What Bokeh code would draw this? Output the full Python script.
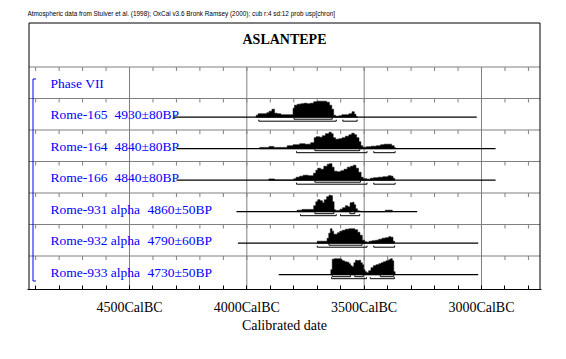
from bokeh.plotting import figure
from bokeh.models import Range1d, FixedTicker, CustomJSTickFormatter
from bokeh.embed import file_html
from bokeh.resources import INLINE
from bokeh.core.properties import value

# ---------------- data ----------------
caption = "Atmospheric data from Stuiver et al. (1998); OxCal v3.6 Bronk Ramsey (2000); cub r:4 sd:12 prob usp[chron]"
site = "ASLANTEPE"
phase_label = "Phase VII"
x_title = "Calibrated date"

lab_codes = ["Rome-165", "Rome-164", "Rome-166", "Rome-931 alpha", "Rome-932 alpha", "Rome-933 alpha"]
bp_ages = [4930, 4840, 4840, 4860, 4790, 4730]
bp_errors = [80, 80, 80, 50, 60, 50]

major_years = [4500, 4000, 3500, 3000]
tick_years = [4900, 4800, 4700, 4600, 4500, 4400, 4300, 4200, 4100, 4000, 3900, 3800,
              3700, 3600, 3500, 3400, 3300, 3200, 3100, 3000, 2900, 2800]

# calibrated probability (step values, each held until the next year, cal BC)
rome165_years = [3960, 3952, 3915, 3905, 3893, 3882, 3870, 3855, 3803, 3797, 3785, 3770, 3757, 3743, 3730,
                 3715, 3700, 3660, 3648, 3638, 3630, 3622, 3607, 3595, 3565, 3552, 3542, 3535, 3528]
rome165_prob = [2, 3.5, 4.5, 6, 8, 4, 3.5, 2.5, 9, 12, 13, 13.5, 14, 13.5, 14,
                15.5, 16, 15, 12, 8, 2, 1, 1.5, 2.5, 3.5, 5.5, 3, 0.5, 0]

rome164_years = [3945, 3905, 3885, 3828, 3803, 3775, 3752, 3728, 3713, 3705, 3690, 3678, 3665, 3650, 3640,
                 3632, 3622, 3608, 3594, 3580, 3565, 3553, 3542, 3532, 3522, 3514, 3506, 3490, 3470, 3448,
                 3430, 3415, 3383, 3372, 3365]
rome164_prob = [1.3, 2.3, 1.3, 3, 4, 5, 4.5, 6, 11, 12, 11.5, 13, 15, 16.5, 15,
                11, 9.5, 10, 11, 12.5, 14, 15.5, 14, 11, 7, 3, 1.5, 2, 2.5, 3,
                4, 4.5, 3, 1, 0]

rome166_years = [3906, 3882, 3800, 3790, 3775, 3760, 3738, 3716, 3706, 3698, 3686, 3672, 3657, 3648, 3637,
                 3628, 3616, 3600, 3586, 3572, 3558, 3546, 3535, 3524, 3513, 3504, 3488, 3473, 3460, 3440,
                 3420, 3398, 3385, 3377, 3370]
rome166_prob = [1.3, 0, 1.5, 3, 4, 5, 4.5, 7, 10, 12, 11, 14, 16, 16.5, 13,
                9, 8.5, 9.5, 11, 13, 14, 15, 12, 8, 3, 1.5, 1, 2, 2.5, 3,
                3.5, 4.5, 4, 2, 0]

rome931_years = [3786, 3765, 3715, 3706, 3698, 3688, 3678, 3670, 3660, 3650, 3642, 3635, 3628, 3622, 3603,
                 3592, 3580, 3570, 3560, 3550, 3543, 3536, 3529, 3521, 3512, 3410, 3380]
rome931_prob = [1.5, 2.3, 6, 10, 12, 11, 9, 12, 15, 16.5, 16, 10, 2, 1.3, 2.5,
                4, 6, 5, 9, 9.5, 7, 3, 1, 0.5, 0, 1.5, 0]

rome932_years = [3700, 3658, 3651, 3644, 3637, 3630, 3614, 3604, 3593, 3580, 3565, 3540, 3528, 3518, 3508,
                 3498, 3489, 3479, 3466, 3452, 3438, 3424, 3410, 3396, 3386, 3377, 3370]
rome932_prob = [2, 5, 10, 14.5, 12, 9, 10.5, 12, 13, 14, 14.5, 13.5, 11, 8, 3,
                1.5, 1, 2, 2.5, 3, 4, 5, 5.5, 6.5, 6, 2, 0]

rome933_years = [3642, 3636, 3628, 3602, 3594, 3584, 3574, 3565, 3558, 3551, 3544, 3537, 3529, 3522, 3515,
                 3508, 3502, 3496, 3489, 3481, 3471, 3461, 3450, 3438, 3428, 3418, 3407, 3396, 3388, 3380,
                 3374, 3368]
rome933_prob = [5, 15.5, 16, 15.5, 14, 13, 12.5, 11, 9, 8, 12, 14.5, 14, 14.5, 12,
                10, 5, 3, 2, 4, 7, 9, 10, 11, 12, 13, 14, 15, 16, 14,
                3, 0]

# extent of each calibrated distribution (cal BC)
dist_start = [4310, 4300, 4300, 4044, 4038, 3864]
dist_end = [3020, 2940, 2940, 3274, 3014, 3014]

# 68.2% and 95.4% ranges (cal BC)
range68 = [
    [(3799, 3636)],
    [(3710, 3519)],
    [(3710, 3516)],
    [(3710, 3629), (3561, 3540)],
    [(3650, 3509)],
    [(3636, 3558), (3540, 3504), (3431, 3374)],
]
range95 = [
    [(3949, 3619), (3591, 3530)],
    [(3788, 3488), (3459, 3368)],
    [(3788, 3488), (3459, 3368)],
    [(3771, 3619), (3601, 3519)],
    [(3700, 3488), (3459, 3370)],
    [(3639, 3490), (3474, 3371)],
]

dist_years = [rome165_years, rome164_years, rome166_years, rome931_years, rome932_years, rome933_years]
dist_prob = [rome165_prob, rome164_prob, rome166_prob, rome931_prob, rome932_prob, rome933_prob]

# ---------------- layout (page pixels) ----------------
PPY = 117.33 / 500.0          # pixels per year
X4500 = 129.0                 # page x of 4500 BC


def xd(px):
    return 4500 - (px - X4500) / PPY


def yd(py):
    return py - 8.0


BOX_L, BOX_R, BOX_T, BOX_B = 28.5, 539.5, 22.5, 289.0
HEAD_B = 66.5
ROW_H = 31.5
GRAY = "#808080"
BLUE = "#0000FF"
SERIF = value("Liberation Serif")
LABEL_SIZE = "13.5px"

p = figure(frame_width=514, frame_height=281,
           min_border_left=27, min_border_right=19, min_border_top=8, min_border_bottom=62,
           x_range=Range1d(xd(27), xd(541)), y_range=Range1d(281, 0),
           y_axis_location=None, toolbar_location=None, output_backend="svg",
           background_fill_color="white", border_fill_color="white")
p.title.visible = False
p.outline_line_color = None
p.grid.visible = False

# caption and title
p.text(x=[xd(27)], y=[yd(13)], text=[caption], text_font=value("Liberation Sans"),
       text_font_size="6.4px", text_baseline="middle", text_align="left", text_color="black")
p.text(x=[xd((BOX_L + BOX_R) / 2)], y=[yd(39)], text=[site], text_font=SERIF,
       text_font_size="14px", text_font_style="bold", text_baseline="middle",
       text_align="center", text_color="black")

# row separators with hanging ticks
n_rows = len(lab_codes) + 1
row_tops = [HEAD_B + ROW_H * i for i in range(n_rows)]
p.segment(x0=[xd(BOX_L)] * n_rows, x1=[xd(BOX_R)] * n_rows,
          y0=[yd(t) for t in row_tops], y1=[yd(t) for t in row_tops],
          line_color=GRAY, line_width=1)
tx, ty0, ty1 = [], [], []
for t in row_tops:
    for yr in tick_years:
        tx.append(yr)
        ty0.append(yd(t))
        ty1.append(yd(t + 4))
p.segment(x0=tx, x1=tx, y0=ty0, y1=ty1, line_color=GRAY, line_width=1)

# major vertical grid lines
p.segment(x0=major_years, x1=major_years, y0=[yd(HEAD_B)] * len(major_years),
          y1=[yd(BOX_B)] * len(major_years), line_color=GRAY, line_width=1)

# outer box
p.multi_line(xs=[[xd(BOX_L), xd(BOX_L), xd(BOX_R), xd(BOX_R), xd(BOX_L)]],
             ys=[[yd(BOX_B), yd(BOX_T), yd(BOX_T), yd(BOX_B), yd(BOX_B)]],
             line_color="black", line_width=1)

# bracket
bx, bx2 = 32.5, 35.5
p.multi_line(xs=[[xd(bx2), xd(bx), xd(bx), xd(bx2)]],
             ys=[[yd(78.5), yd(78.5), yd(280.5), yd(280.5)]],
             line_color=BLUE, line_width=1)

# labels: phase, lab codes, and ages (ages set in a second column)
p.text(x=[xd(50)], y=[yd(row_tops[0] + 16)], text=[phase_label],
       text_font=SERIF, text_font_size=LABEL_SIZE, text_color=BLUE,
       text_baseline="alphabetic", text_align="left")
p.text(x=[xd(50)] * len(lab_codes), y=[yd(t + 16) for t in row_tops[1:]], text=lab_codes,
       text_font=SERIF, text_font_size=LABEL_SIZE, text_color=BLUE,
       text_baseline="alphabetic", text_align="left")
age_texts = [f"{a}\u00b1{e}BP" for a, e in zip(bp_ages, bp_errors)]
age_px = [114 if len(c) < 10 else 147 for c in lab_codes]
p.text(x=[xd(v) for v in age_px], y=[yd(t + 16) for t in row_tops[1:]], text=age_texts,
       text_font=SERIF, text_font_size=LABEL_SIZE, text_color=BLUE,
       text_baseline="alphabetic", text_align="left")

# distributions
for i in range(len(lab_codes)):
    base = yd(row_tops[i + 1] + 18.7)
    p.segment(x0=[dist_start[i]], x1=[dist_end[i]], y0=[base], y1=[base],
              line_color="black", line_width=1.3)
    yrs, pr = dist_years[i], dist_prob[i]
    px, py = [yrs[0]], [base]
    for k in range(len(yrs) - 1):
        px += [yrs[k], yrs[k + 1]]
        py += [base - pr[k], base - pr[k]]
    px.append(yrs[-1])
    py.append(base)
    p.patch(px, py, fill_color="black", line_color="black", line_width=0.5)
    xs, ys = [], []
    for off, rr in ((2.0, range68[i]), (4.0, range95[i])):
        for a, b in rr:
            xs.append([a, a, b, b])
            ys.append([base + off - 1.5, base + off, base + off, base + off - 1.5])
    p.multi_line(xs=xs, ys=ys, line_color="black", line_width=1)

# bottom axis
ax = p.xaxis[0]
ax.ticker = FixedTicker(ticks=tick_years)
ax.formatter = CustomJSTickFormatter(code="return (tick % 500 == 0) ? tick + 'CalBC' : '';")
ax.axis_line_color = "black"
ax.major_tick_in = 4
ax.major_tick_out = 0
ax.major_tick_line_color = "black"
ax.minor_tick_line_color = None
ax.major_label_standoff = 10
ax.major_label_text_font = "Liberation Serif"
ax.major_label_text_font_size = "14px"
ax.major_label_text_color = "black"
ax.axis_label = x_title
ax.axis_label_standoff = 0
ax.axis_label_text_font = "Liberation Serif"
ax.axis_label_text_font_size = "14px"
ax.axis_label_text_font_style = "normal"
ax.axis_label_text_color = "black"

open("out.html", "w").write(file_html(p, INLINE))
